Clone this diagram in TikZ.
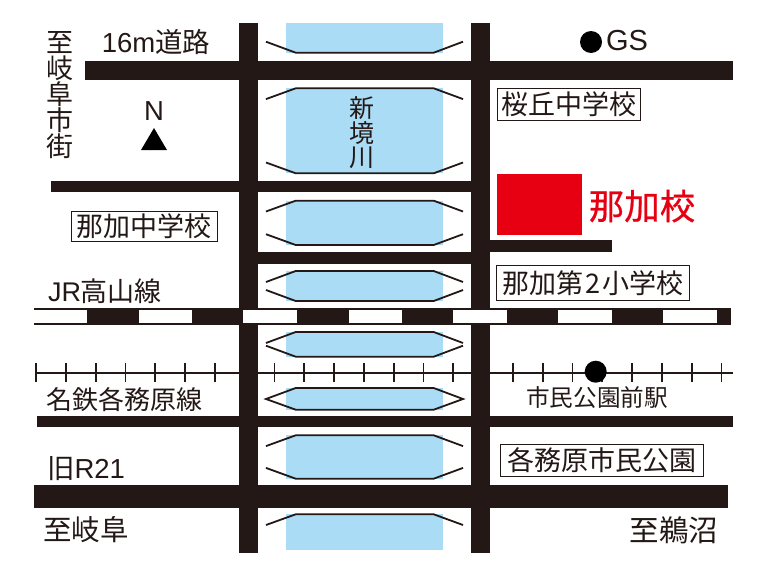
\documentclass[tikz,border=0pt]{standalone}
\usepackage{fontspec}
\setmainfont{Liberation Sans}
\newfontfamily\jp{Noto Sans CJK JP}
\newfontfamily\jpheavy[FakeBold=0.6]{Noto Sans CJK JP}
\definecolor{roadblack}{HTML}{231815}
\definecolor{riverblue}{HTML}{ABDCF5}
\definecolor{schoolred}{HTML}{E60012}
\begin{document}
\begin{tikzpicture}
  [x=1pt,y=-1pt,every node/.style={inner sep=0pt,text=roadblack}]
  \tikzstyle{road} = [fill=roadblack]
  \tikzstyle{bank} = [draw=roadblack,line width=1.8pt,line join=miter]
  \tikzstyle{label} = [font=\jp\fontsize{26}{26}\selectfont]
  \tikzstyle{school} = [draw=roadblack,line width=1pt,fill=white,font=\jp\fontsize{27}{27}\selectfont]
  \useasboundingbox (0,0) rectangle (768,576);

  % river
  \fill[riverblue] (286.3,23) rectangle (442.7,52.7);
\foreach \top /\bot in {88.3/173.3,200.7/245,271/301,332/356.7,388/409.7,435.3/478.7}
   \fill[riverblue] (286.3,\top) rectangle (442.7,\bot);
  \fill[riverblue] (286.3,514.3) rectangle (442.7,550.3);

  % bridges
  \draw[bank] (266,41.7) -- (295.7,52.7) -- (433.7,52.7) -- (463,41.7);
\foreach \top /\bot /\gap in {88.3/173.3/10.8,200.7/245/10.8,271/301/11,332/356.7/11,435.3/478.7/10.8}
{
   \draw[bank] (266,\top+\gap) -- (295.7,\top) -- (433.7,\top) -- (463,\top+\gap);
   \draw[bank] (266,\bot-\gap) -- (295.7,\bot) -- (433.7,\bot) -- (463,\bot-\gap);
}
  \draw[bank] (266,399) -- (295.7,388) -- (433.7,388) -- (463,399) -- (433.7,409.7) -- (295.7,409.7) -- cycle;
  \draw[bank] (266,525) -- (295.7,514.3) -- (433.7,514.3) -- (463,525);

  % Meitetsu line
  \draw[roadblack,line width=1.8pt] (36,372.7) -- (733,372.7);
\foreach \i in {0,...,23}
   \draw[roadblack,line width=1.8pt] (36+29.8*\i,363) -- (36+29.8*\i,382);

  % roads
\foreach \xa /\ya /\xb /\yb in {85/61/733/80,51/181/471/192.3,258/252.3/471/264,490/240/612/252.3,37/415.7/733/427.3,34/485/728/508,239.3/23/258/552.7,471.3/23/490/552.7}
   \fill[road] (\xa,\ya) rectangle (\xb,\yb);

  % JR line
  \fill[road] (34,308.4) rectangle (731,324.6);
\foreach \xa /\xb in {34/87,138.7/191.7,243.3/296.7,348.7/401.7,453.3/506.7,558.3/611.7,663.3/716.7}
   \fill[white] (\xa,310.2) rectangle (\xb,323.2);

  % stations and north mark
  \fill[black] (595.7,371.7) circle (11);
  \fill[black] (591,42) circle (11);
  \fill[black] (154,128) -- (167,150) -- (141,150) -- cycle;

  % school
  \fill[schoolred] (497,173.7) rectangle (582.3,235.3);
  \node[font=\jpheavy\fontsize{35.5}{35.5}\selectfont,text=schoolred] (naka) at (642,206) {那加校};

  \node[school,minimum width=143pt,minimum height=32pt] (sakuragaoka) at (568.5,104) {桜丘中学校};
  \node[school,minimum width=146pt,minimum height=30pt] (nakachu) at (144,226) {那加中学校};
  \node[school,minimum width=192.6pt,minimum height=34.3pt] (nakasho) at (593,283) {那加第\kern2pt 2\kern2pt 小学校};
  \node[school,minimum width=203pt,minimum height=32pt] (park) at (601.5,460) {各務原市民公園};

  \node[font=\fontsize{27.5}{27.5}\selectfont] (road16) at (156,42) {16m{\jp 道路}};
  \node[label,align=center,font=\jp\fontsize{27}{26}\selectfont] (gifucity) at (60,95) {至\\岐\\阜\\市\\街};
  \node[label,align=center,font=\jp\fontsize{25}{24.5}\selectfont] (river) at (362,133) {新\\境\\川};
  \node[font=\fontsize{27.5}{27.5}\selectfont] (north) at (154,111) {N};
  \node[font=\fontsize{29}{29}\selectfont] (gs) at (627,41) {GS};
  \node[font=\fontsize{27}{27}\selectfont] (jr) at (105,291) {JR{\jp 高山線}};
  \node[label] (meitetsu) at (124,400) {名鉄各務原線};
  \node[label,font=\jp\fontsize{23.6}{23.6}\selectfont] (station) at (597,398) {市民公園前駅};
  \node[font=\fontsize{27.5}{27.5}\selectfont] (old21) at (86,469) {{\jp 旧}R21};
  \node[label,font=\jp\fontsize{28.5}{28.5}\selectfont] (togifu) at (86,530) {至岐阜};
  \node[label,font=\jp\fontsize{29.5}{29.5}\selectfont] (tounuma) at (674,530) {至鵜沼};
\end{tikzpicture}
\end{document}
